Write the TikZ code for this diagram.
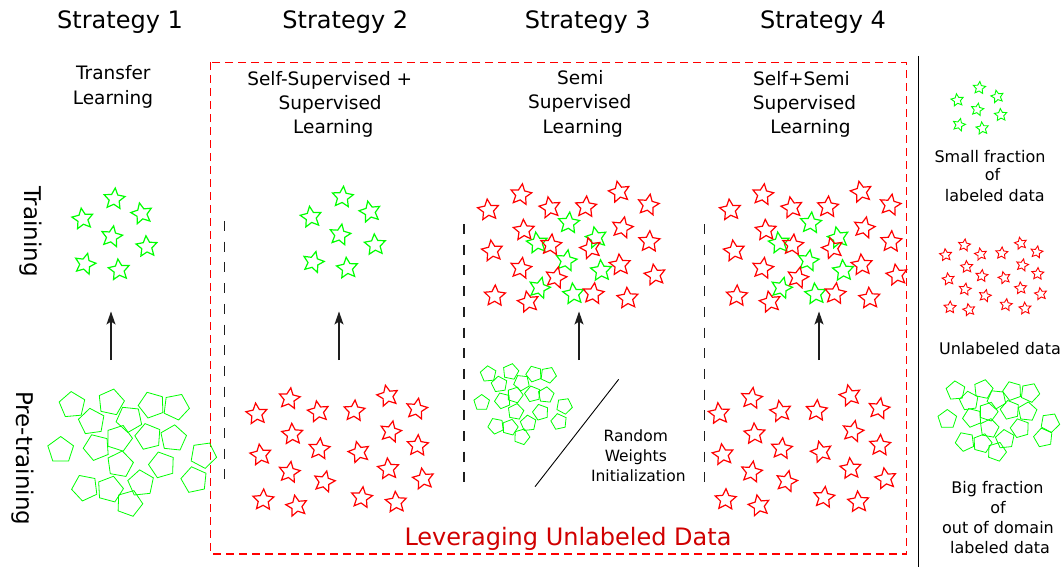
\documentclass[tikz,border=0pt]{standalone}
\usepackage{fontspec}
\setmainfont{DejaVu Sans}
\usetikzlibrary{arrows.meta}
\definecolor{levred}{RGB}{208,0,0}
\definecolor{dgray}{RGB}{30,30,30}
\tikzset{
  starshape/.pic={\draw (-90:1) -- (-54:.48) -- (-18:1) -- (18:.48) -- (54:1) -- (90:.48) -- (126:1) -- (162:.48) -- (198:1) -- (234:.48) -- cycle;},
  pentshape/.pic={\draw (-90:1) -- (-18:1) -- (54:1) -- (126:1) -- (198:1) -- cycle;},
  gstar/.style={green, line width=1.2pt},
  rstar/.style={red, line width=1.2pt},
  lgstar/.style={green, line width=0.9pt},
  lrstar/.style={red, line width=0.9pt},
  pent/.style={green, line width=0.8pt},
  titletext/.style={font=\fontsize{24}{28}\selectfont, anchor=base, inner sep=0pt},
  subtext/.style={font=\fontsize{18.5}{24}\selectfont, anchor=base, inner sep=0pt},
  legtext/.style={font=\fontsize{16}{19}\selectfont, anchor=base, inner sep=0pt},
  rwtext/.style={font=\fontsize{15.5}{19}\selectfont, anchor=base, inner sep=0pt},
  sidetext/.style={font=\fontsize{23}{28}\selectfont, anchor=base, inner sep=0pt, rotate=-90},
  levtext/.style={font=\fontsize{24}{28}\selectfont, anchor=base, inner sep=0pt, text=levred},
  sepline/.style={dgray, line width=1.4pt, dash pattern=on 10pt off 10.7pt},
  uparrow/.style={dgray, line width=1.1pt, -{Stealth[length=13pt, width=9pt, inset=3pt]}},
  boxline/.style={red, line width=1.3pt, dash pattern=on 8pt off 5pt},
}
\newcommand\greengroup[3]{%
  \foreach \px/\py/\pa in {82.7/219/8, 114.3/199/-5, 141.7/213.7/12, 111.7/236.7/-10, 146.7/246.7/4, 85/264/-14, 119/270/6}
    {\pic[#3, rotate=\pa, scale=11] at ({\px+#1},{\py+#2}) {starshape};}}
\newcommand\redgroup[2]{%
  \foreach \px/\py/\pa in {256.7/414/6, 289.3/398.7/-8, 318.3/411.7/10, 354.3/411/-4, 387.7/396/12, 416.7/409/-10, 292.3/434.3/3, 390.7/431.7/-12, 260.7/455/8, 319.3/449/-6, 359/452.3/14, 417.7/445.7/-3, 289.3/472.3/-9, 388.3/469/5, 324.3/481.7/-13, 423.3/479/9, 263.3/500/-2, 296.7/506/11, 361.7/497.7/-7, 396/502.3/4}
    {\pic[rstar, rotate=\pa, scale=11] at ({\px+#1},{\py+#2}) {starshape};}}
\begin{document}
\begin{tikzpicture}[x=1pt, y=-1pt]
\useasboundingbox (0,0) rectangle (1064,567);

% titles
\node[titletext] (t1) at (120,29) {Strategy 1};
\node[titletext] (t2) at (345.3,29) {Strategy 2};
\node[titletext] (t3) at (587.8,29) {Strategy 3};
\node[titletext] (t4) at (823,29) {Strategy 4};

% subtitles
\node[subtext] (s1a) at (113.3,80) {Transfer};
\node[subtext] (s1b) at (113,104) {Learning};
\node[subtext] (s2a) at (329.7,86) {Self-Supervised +};
\node[subtext] (s2b) at (330.2,110) {Supervised};
\node[subtext] (s2c) at (333.3,133.5) {Learning};
\node[subtext] (s3a) at (580.3,85) {Semi};
\node[subtext] (s3b) at (579.7,109) {Supervised};
\node[subtext] (s3c) at (582.8,133.3) {Learning};
\node[subtext] (s4a) at (801.5,86) {Self+Semi};
\node[subtext] (s4b) at (804.5,110) {Supervised};
\node[subtext] (s4c) at (810.5,133.3) {Learning};

% side labels
\node[sidetext] (train) at (24.9,231.5) {Training};
\node[sidetext] (pretrain) at (16.5,458.4) {Pre-training};

% dashed red box
\draw[boxline] (210.7,62.3) rectangle (906.7,554);
\node[levtext] (lev) at (568,545) {Leveraging Unlabeled Data};

% legend separator
\coordinate (sepTop) at (918.3,56);
\coordinate (sepBot) at (918.3,567);
\draw[black, line width=1.3pt] (sepTop) -- (sepBot);

% black dashed separators
\coordinate (d2a) at (224.5,221); \coordinate (d2b) at (224.5,481);
\coordinate (d3a) at (464,224);   \coordinate (d3b) at (464,483);
\coordinate (d4a) at (704.3,224); \coordinate (d4b) at (704.3,483);
\draw[sepline] (d2a) -- (d2b);
\draw[sepline] (d3a) -- (d3b);
\draw[sepline] (d4a) -- (d4b);

% arrows
\coordinate (a1s) at (111,360);   \coordinate (a1e) at (111,311.5);
\coordinate (a2s) at (339,360);   \coordinate (a2e) at (339,311.5);
\coordinate (a3s) at (579,360);   \coordinate (a3e) at (579,311.5);
\coordinate (a4s) at (819,360);   \coordinate (a4e) at (819,311.5);
\draw[uparrow] (a1s) -- (a1e);
\draw[uparrow] (a2s) -- (a2e);
\draw[uparrow] (a3s) -- (a3e);
\draw[uparrow] (a4s) -- (a4e);

% diagonal line
\coordinate (dg1) at (618.7,379.3);
\coordinate (dg2) at (535,486.7);
\draw[black, line width=0.9pt] (dg1) -- (dg2);
\node[rwtext] (rw1) at (635.8,441.7) {Random};
\node[rwtext] (rw2) at (635.8,461.7) {Weights};
\node[rwtext] (rw3) at (638.3,481.7) {Initialization};

% green star groups
\greengroup{0}{0}{gstar}
\greengroup{228.3}{-1.8}{gstar}
\greengroup{454.5}{24}{gstar}
\greengroup{696.5}{24}{gstar}

% red star groups
\redgroup{0}{0}
\redgroup{462.3}{-0.3}
\redgroup{231.6}{-204}
\redgroup{473.5}{-204}

% pentagons strategy 1
\foreach \px/\py/\pa in {72.3/405/5, 111/402.3/-12, 151.7/405/20, 176/406.7/-25, 91.7/421.7/8, 129.3/419/30, 119/438.3/-18, 148.3/436.7/14, 173.3/438.3/-6, 96.7/447.3/22, 60.7/450/0, 120/464.3/-10, 162/465/16, 203.3/455/-28, 194.3/480/12, 85/487.7/25, 110/489.3/-15, 141/483.3/6, 129.3/503.3/-20}
  {\pic[pent, rotate=\pa, scale=13.5] at (\px,\py) {pentshape};}

% pentagons strategy 3
\foreach \px/\py/\pa in {488.3/374/5, 510.7/371.7/-12, 534/374/20, 548.3/375/-25, 499.3/384.3/8, 521.7/382.7/30, 515/395/-18, 532.7/394/14, 546/395/-6, 502.7/400.7/22, 481.7/402.7/0, 515.7/411.7/-10, 540.7/412.3/16, 564.3/406/-28, 559/421.7/12, 496/426/25, 510/427.3/-15, 528.3/423.3/6, 521.7/436.7/-20}
  {\pic[pent, rotate=\pa, scale=8.2] at (\px,\py) {pentshape};}

% legend: small fraction of labeled data
\foreach \px/\py/\pa in {957.3/100.2/8, 979.3/87.9/-5, 997.3/96.6/12, 977.3/109.6/-10, 1000.7/115/4, 959/124.8/-14, 982.3/128.4/6}
  {\pic[lgstar, rotate=\pa, scale=6.5] at (\px,\py) {starshape};}
\node[legtext] (l1a) at (990,162.7) {Small fraction};
\node[legtext] (l1b) at (992.5,180.8) {of};
\node[legtext] (l1c) at (994.8,201.4) {labeled data};

% legend: unlabeled data
\foreach \px/\py/\pa in {945.7/255/6, 964.3/245.2/-8, 980.7/254.3/10, 1001.7/253.2/-4, 1020.7/243.4/12, 1036.7/252.1/-10, 966.7/266.9/3, 1022.3/265.1/-12, 948.3/279.2/8, 981.7/275.9/-6, 1004.3/277.8/14, 1037.7/273.8/-3, 965/289.3/-9, 1020.7/288.2/5, 985/295.8/-13, 1040.7/294/9, 950/307.4/-2, 969/309.9/11, 1006/304.9/-7, 1025/308.5/4}
  {\pic[lrstar, rotate=\pa, scale=6.3] at (\px,\py) {starshape};}
\node[legtext] (l2) at (1000,354.4) {Unlabeled data};

% legend: big fraction of out of domain labeled data
\foreach \px/\py/\pa in {955.7/390.7/5, 983.3/389.3/-12, 1012.3/391/20, 1030/392.7/-25, 969/401/8, 996.7/399.3/30, 988.3/411.7/-18, 1010/410/14, 1027.3/411.7/-6, 972.3/417.7/22, 947.3/419.3/0, 989.3/428.3/-10, 1020/428.3/16, 1050/422.7/-28, 1043.3/437.7/12, 965/441.7/25, 982.3/443.3/-15, 1005/439.3/6, 996.7/451.7/-20}
  {\pic[pent, rotate=\pa, scale=9.8] at (\px,\py) {pentshape};}
\node[legtext] (l3a) at (997.5,493.7) {Big fraction};
\node[legtext] (l3b) at (998,513.6) {of};
\node[legtext] (l3c) at (998,533.5) {out of domain};
\node[legtext] (l3d) at (1000,553.4) {labeled data};
\end{tikzpicture}
\end{document}
